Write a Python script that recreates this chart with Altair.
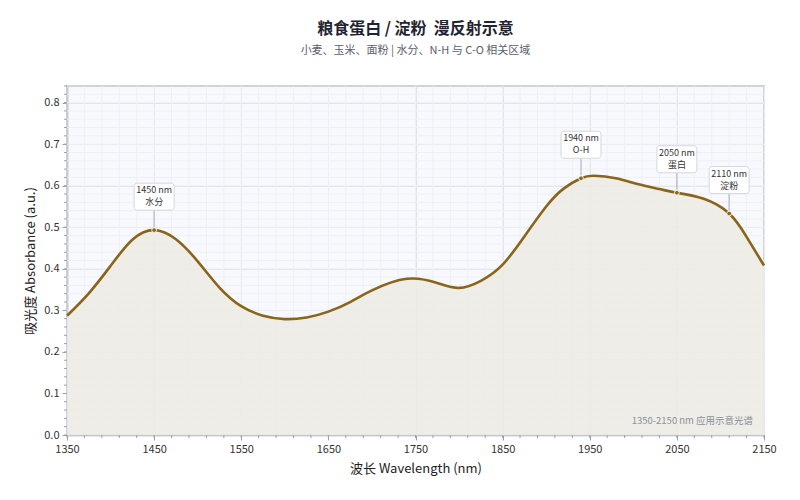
import altair as alt
import pandas as pd

# spectrum
wavelength = [1350, 1375, 1400, 1425, 1450, 1475, 1500, 1525, 1550, 1575, 1600, 1625,
              1650, 1675, 1700, 1740, 1775, 1800, 1825, 1850, 1875, 1900, 1920, 1940,
              1955, 1980, 2005, 2030, 2050, 2080, 2110, 2130, 2150]
absorbance = [0.287, 0.341, 0.407, 0.470, 0.493, 0.471, 0.418, 0.355, 0.310, 0.287, 0.279, 0.283,
              0.297, 0.320, 0.348, 0.376, 0.366, 0.354, 0.371, 0.410, 0.478, 0.550, 0.593, 0.618,
              0.624, 0.618, 0.604, 0.592, 0.583, 0.569, 0.533, 0.477, 0.408]

peak_wl = [1450, 1940, 2050, 2110]
peak_abs = [0.493, 0.618, 0.583, 0.533]
peak_nm = ["1450 nm", "1940 nm", "2050 nm", "2110 nm"]
peak_name = ["水分", "O-H", "蛋白", "淀粉"]

x_minor = list(range(1350, 2151, 20))
y_minor = [round(i * 0.02, 2) for i in range(0, 43)]

FONT = "Noto Sans CJK SC"
LINE = "#8a6419"

spec = pd.DataFrame({"wl": wavelength, "a": absorbance})
peaks = pd.DataFrame({"wl": peak_wl, "a": peak_abs, "nm": peak_nm, "name": peak_name})
xm = pd.DataFrame({"wl": x_minor})
ym = pd.DataFrame({"a": y_minor})

xs = alt.Scale(domain=[1350, 2150], nice=False, zero=False)
ys = alt.Scale(domain=[0, 0.84], nice=False)

x_enc = alt.X("wl:Q", scale=xs, title="波长 Wavelength (nm)",
              axis=alt.Axis(values=list(range(1350, 2151, 100)), format="d", labelFlush=False))
y_enc = alt.Y("a:Q", scale=ys, title="吸光度 Absorbance (a.u.)",
              axis=alt.Axis(values=[i / 10 for i in range(0, 9)], format=".1f"))

minor_vgrid = alt.Chart(xm).mark_rule(color="#eef0f6", strokeWidth=1).encode(x=alt.X("wl:Q", scale=xs))
minor_hgrid = alt.Chart(ym).mark_rule(color="#eef0f6", strokeWidth=1).encode(y=alt.Y("a:Q", scale=ys))
minor_xtick = alt.Chart(xm).mark_rule(color="#9aa0ab", strokeWidth=1, y2Offset=3).encode(
    x=alt.X("wl:Q", scale=xs), y=alt.datum(0, scale=ys), y2=alt.datum(0))
minor_ytick = alt.Chart(ym).mark_rule(color="#9aa0ab", strokeWidth=1, x2Offset=-3).encode(
    y=alt.Y("a:Q", scale=ys), x=alt.datum(1350, scale=xs), x2=alt.datum(1350))

area = alt.Chart(spec).mark_area(color="#ecebe4", opacity=0.9, interpolate="natural").encode(
    x=x_enc, y=y_enc)
line = alt.Chart(spec).mark_line(color=LINE, strokeWidth=2.6, interpolate="natural").encode(
    x=alt.X("wl:Q", scale=xs), y=alt.Y("a:Q", scale=ys))

base = alt.Chart(peaks).encode(x=alt.X("wl:Q", scale=xs), y=alt.Y("a:Q", scale=ys))
leader = base.mark_rule(color="#b4b9c2", strokeWidth=1.2, yOffset=-20, y2Offset=-3).encode(y2="a:Q")
box = base.mark_rect(fill="white", stroke="#d3d7de", strokeWidth=1, cornerRadius=3,
                     xOffset=-20, x2Offset=20, yOffset=-47, y2Offset=-20).encode(x2="wl:Q", y2="a:Q")
txt1 = base.mark_text(font=FONT, fontSize=9, color="#333333", dy=-40).encode(text="nm:N")
txt2 = base.mark_text(font=FONT, fontSize=9, color="#333333", dy=-28).encode(text="name:N")
dots = base.mark_point(filled=True, color=LINE, size=22, stroke="#f3f0e6", strokeWidth=1, opacity=1)

note = alt.Chart(pd.DataFrame({"t": ["1350-2150 nm 应用示意光谱"]})).mark_text(
    font=FONT, fontSize=9.5, color="#8a8f99", align="right", baseline="middle"
).encode(x=alt.value(686), y=alt.value(335), text="t:N")

chart = alt.layer(
    minor_vgrid, minor_hgrid, area, line, minor_xtick, minor_ytick,
    leader, box, txt1, txt2, dots, note
).properties(
    width=697, height=349,
    padding={"left": 16, "top": 12, "right": 5, "bottom": 5},
    title=alt.TitleParams(
        "粮食蛋白 / 淀粉\u00a0\u00a0漫反射示意",
        subtitle="小麦、玉米、面粉 | 水分、N-H 与 C-O 相关区域",
        font=FONT, fontSize=16, fontWeight="bold", color="#1f2430",
        subtitleFont=FONT, subtitleFontSize=11, subtitleColor="#5a606b",
        anchor="middle", offset=30, subtitlePadding=8,
    ),
    background="white",
).configure_view(
    fill="#f8f9fc", stroke="#9aa0ab", strokeWidth=1.5
).configure_axis(
    labelFont=FONT, titleFont=FONT, labelFontSize=11, labelColor="#333333",
    titleFontSize=13, titleFontWeight="normal", titleColor="#222222",
    domainColor="#9aa0ab", domainWidth=1.5, tickColor="#9aa0ab", tickSize=5,
    gridColor="#dfe3ea", gridWidth=1,
).configure_axisX(titlePadding=8, labelPadding=3).configure_axisY(titlePadding=6, labelPadding=3)

chart.save("out.html", embed_options={"renderer": "svg", "actions": False})
